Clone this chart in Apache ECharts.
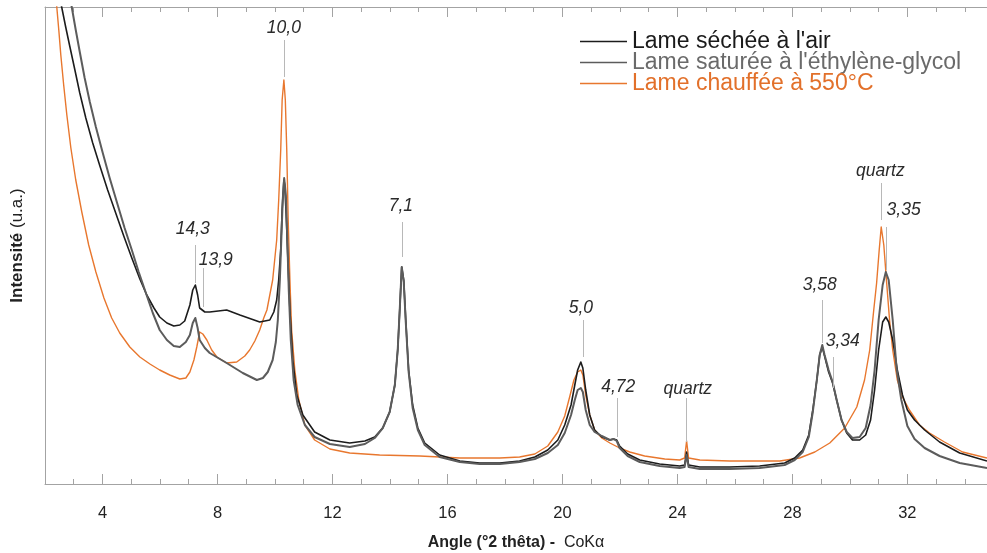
<!DOCTYPE html>
<html lang="fr">
<head>
<meta charset="utf-8">
<title>Diffractogrammes – lames orientées</title>
<script src="https://cdn.jsdelivr.net/npm/echarts@6.0.0/dist/echarts.min.js"></script>
<style>
  html, body { margin: 0; padding: 0; background: #ffffff; }
  #chart { width: 987px; height: 553px; }
</style>
</head>
<body>
<div id="chart"></div>
<script>
// Diffractogrammes X (CoKα) : [angle °2θ, intensité u.a.]
const airDried = [[2.00,562],[2.58,477],[2.72,457],[2.86,438],[3.04,414],[3.21,391],[3.42,366],[3.66,341],[3.91,318],[4.18,294],[4.46,271],[4.74,248],[5.02,226],[5.30,205],[5.54,189],[5.79,176],[5.99,167],[6.24,161],[6.48,158],[6.69,159],[6.86,163],[7.04,179],[7.14,194],[7.23,199],[7.31,189],[7.38,176],[7.56,172],[7.73,172],[8.32,174],[8.78,169],[9.47,162],[9.82,164],[9.96,172],[10.06,184],[10.13,204],[10.20,234],[10.25,274],[10.31,304],[10.34,299],[10.39,269],[10.45,224],[10.52,174],[10.62,124],[10.76,89],[10.97,69],[11.38,52],[11.91,44],[12.60,41],[13.13,43],[13.47,47],[13.75,56],[13.99,72],[14.17,99],[14.27,134],[14.34,174],[14.41,217],[14.48,204],[14.55,164],[14.65,114],[14.79,79],[14.97,56],[15.21,41],[15.73,29],[16.43,23],[17.12,21],[17.82,21],[18.51,23],[19.04,27],[19.49,34],[19.84,44],[20.08,59],[20.30,79],[20.43,99],[20.53,114],[20.64,122],[20.71,116],[20.81,94],[20.95,69],[21.12,54],[21.37,47],[21.65,44],[21.78,45],[21.89,44],[21.99,38],[22.27,30],[22.69,24],[23.38,20],[24.08,18],[24.25,19],[24.32,32],[24.39,19],[24.78,17],[25.82,17],[26.86,18],[27.73,21],[28.08,26],[28.36,34],[28.57,49],[28.71,74],[28.85,104],[28.95,129],[29.04,137],[29.12,128],[29.26,112],[29.40,101],[29.54,84],[29.71,64],[29.89,51],[30.09,44],[30.34,44],[30.55,49],[30.72,64],[30.86,94],[31.00,134],[31.14,162],[31.25,167],[31.35,162],[31.49,144],[31.65,114],[31.83,89],[32.00,74],[32.25,64],[32.60,54],[33.12,42],[33.82,31],[34.77,23]];

const glycol = [[2.00,632],[2.93,477],[3.07,454],[3.21,432],[3.38,406],[3.56,382],[3.77,357],[4.01,331],[4.25,306],[4.53,279],[4.77,256],[5.02,234],[5.26,212],[5.51,191],[5.75,171],[5.99,154],[6.24,144],[6.48,138],[6.69,137],[6.90,142],[7.04,149],[7.14,161],[7.23,166],[7.31,156],[7.38,144],[7.56,136],[7.73,131],[8.32,121],[8.88,111],[9.37,104],[9.58,106],[9.75,112],[9.92,124],[10.03,142],[10.10,164],[10.17,204],[10.22,244],[10.27,284],[10.32,306],[10.38,289],[10.43,244],[10.48,194],[10.55,144],[10.65,104],[10.79,79],[11.04,59],[11.38,47],[11.91,40],[12.60,37],[13.13,40],[13.47,46],[13.75,56],[13.99,72],[14.17,99],[14.27,134],[14.34,174],[14.41,217],[14.48,202],[14.55,162],[14.65,112],[14.79,76],[14.97,54],[15.21,39],[15.73,27],[16.43,22],[17.12,20],[17.82,20],[18.51,22],[19.04,25],[19.49,31],[19.84,39],[20.08,51],[20.30,69],[20.43,84],[20.53,94],[20.64,96],[20.71,92],[20.81,74],[20.95,59],[21.12,52],[21.37,48],[21.65,44],[21.78,45],[21.89,43],[21.99,36],[22.27,28],[22.69,22],[23.38,18],[24.08,16],[24.25,17],[24.32,29],[24.39,17],[24.78,15],[25.82,15],[26.86,16],[27.73,19],[28.08,24],[28.36,32],[28.57,47],[28.71,72],[28.85,104],[28.95,129],[29.04,139],[29.12,129],[29.26,114],[29.40,102],[29.54,84],[29.71,64],[29.89,52],[30.09,46],[30.34,47],[30.55,56],[30.72,79],[30.86,114],[31.00,164],[31.14,199],[31.25,212],[31.35,204],[31.49,164],[31.63,114],[31.79,84],[32.00,58],[32.25,45],[32.60,36],[33.12,28],[33.82,21],[34.77,16]];

const heated = [[2.00,615],[2.41,477],[2.48,454],[2.55,429],[2.65,399],[2.76,369],[2.90,336],[3.07,304],[3.28,272],[3.52,239],[3.77,212],[4.05,186],[4.32,166],[4.60,151],[4.95,137],[5.30,127],[5.65,120],[5.99,114],[6.34,109],[6.69,105],[6.90,106],[7.04,112],[7.18,124],[7.28,137],[7.38,152],[7.49,150],[7.63,144],[7.80,134],[7.98,127],[8.32,121],[8.67,122],[8.95,128],[9.12,134],[9.30,143],[9.47,154],[9.61,166],[9.72,174],[9.82,189],[9.92,204],[10.06,244],[10.13,284],[10.20,334],[10.25,384],[10.31,404],[10.36,384],[10.41,334],[10.46,264],[10.52,204],[10.58,154],[10.69,114],[10.83,84],[11.04,59],[11.38,44],[11.91,35],[12.60,31],[13.64,29],[15.04,28],[16.43,26],[17.82,26],[18.51,27],[19.04,30],[19.49,38],[19.84,52],[20.08,68],[20.26,88],[20.40,104],[20.53,112],[20.64,114],[20.71,109],[20.81,89],[20.95,69],[21.12,54],[21.37,46],[21.65,41],[21.99,36],[22.34,32],[22.86,28],[23.56,25],[24.08,24],[24.25,26],[24.32,43],[24.39,26],[24.78,24],[25.82,23],[26.86,23],[27.56,23],[28.25,26],[28.78,32],[29.30,41],[29.82,56],[30.24,77],[30.51,104],[30.69,134],[30.83,174],[30.93,201],[31.02,234],[31.09,257],[31.18,239],[31.28,201],[31.38,164],[31.49,134],[31.65,104],[31.83,87],[32.07,74],[32.42,59],[32.77,51],[33.29,42],[33.92,32],[34.77,26]];

const seriesNames = ["Lame séchée à l'air", "Lame saturée à l'éthylène-glycol", "Lame chauffée à 550°C"];

// Graduations de l'axe des angles
const labelTicks = [4, 8, 12, 16, 20, 24, 28, 32];
const unitTicks = [3, 5, 6, 7, 9, 10, 11, 13, 14, 15, 17, 18, 19, 21, 22, 23, 25, 26, 27, 29, 30, 31, 33, 34];

// Pics annotés : équidistance (Å) ou minéral, position du trait repère et du texte
const peakLabels = ['14,3', '13,9', '10,0', '7,1', '5,0', '4,72', 'quartz', '3,58', '3,34', 'quartz', '3,35'];
const peakLineX = [7.23, 7.48, 10.31, 14.41, 20.71, 21.89, 24.31, 29.04, 29.43, 31.09, 31.27];
const peakLineTop = [239, 216, 444, 262, 164, 86, 86, 184, 127, 301, 257];
const peakLineBottom = [201, 177, 407, 227, 127, 47, 42, 141, 96, 264, 214];
const peakTextX = [7.14, 7.94, 10.31, 14.38, 20.64, 21.94, 24.36, 28.95, 29.75, 31.06, 31.87];
const peakTextY = [255, 224, 456, 278, 176, 97, 95, 199, 143, 313, 274];

const X_MIN = 2, X_MAX = 34.77, Y_MAX = 477;
const AXIS_GREY = '#a3a3a3';
const NARROW = '"Liberation Sans Narrow", "Arial Narrow", "Liberation Sans", Arial, sans-serif';
const SANS = '"Liberation Sans", Arial, Helvetica, sans-serif';

const colors = { air: '#1c1c1c', glycol: '#5c5c5c', heated: '#e8772e' };

const peakData = peakLabels.map((_, i) => [peakLineX[i], peakLineTop[i], peakLineBottom[i], peakTextX[i], peakTextY[i]]);

function xAxisFrame(position, ticks, tickLength, showLine) {
  return {
    type: 'value', position: position, min: X_MIN, max: X_MAX,
    axisLine: { show: showLine, onZero: false, lineStyle: { color: AXIS_GREY, width: 1 } },
    axisTick: { show: true, inside: true, length: tickLength, customValues: ticks, lineStyle: { color: AXIS_GREY, width: 1 } },
    axisLabel: { show: false },
    splitLine: { show: false }
  };
}

const bottomMain = xAxisFrame('bottom', labelTicks, 10, true);
bottomMain.axisLabel = {
  show: true, customValues: labelTicks, margin: 21,
  fontFamily: NARROW, fontSize: 16.5, color: '#222'
};
bottomMain.name = '{b|Angle (°2 thêta) -}  {n|CoKα}';
bottomMain.nameLocation = 'middle';
bottomMain.nameGap = 51;
bottomMain.nameTextStyle = {
  fontFamily: NARROW, fontSize: 16, color: '#222',
  rich: {
    b: { fontFamily: NARROW, fontSize: 16, fontWeight: 'bold', color: '#222' },
    n: { fontFamily: NARROW, fontSize: 16, color: '#222' }
  }
};

function traceSeries(name, data, color, width, z) {
  return {
    name: name, type: 'line', data: data, symbol: 'none', z: z, clip: true,
    lineStyle: { color: color, width: width, join: 'round' }, itemStyle: { color: color }
  };
}

const chart = echarts.init(document.getElementById('chart'), null, { renderer: 'canvas' });

chart.setOption({
  animation: false,
  backgroundColor: '#ffffff',
  grid: { left: 45, right: 0, top: 7, bottom: 69, containLabel: false, outerBoundsMode: 'none' },
  legend: {
    orient: 'vertical', left: 580, top: 30, padding: 0,
    itemWidth: 47, itemHeight: 1.4, itemGap: -2,
    icon: 'rect',
    data: [
      { name: seriesNames[0], textStyle: { color: '#1a1a1a' }, itemStyle: { color: colors.air } },
      { name: seriesNames[1], textStyle: { color: '#6a6a6a' }, itemStyle: { color: colors.glycol } },
      { name: seriesNames[2], textStyle: { color: '#e2702a' }, itemStyle: { color: colors.heated } }
    ],
    textStyle: { fontFamily: SANS, fontSize: 23 },
    selectedMode: false
  },
  xAxis: [
    bottomMain,
    xAxisFrame('bottom', unitTicks, 5, false),
    xAxisFrame('top', labelTicks, 10, true),
    xAxisFrame('top', unitTicks, 5, false)
  ],
  yAxis: {
    type: 'value', min: 0, max: Y_MAX,
    axisLine: { show: true, onZero: false, lineStyle: { color: AXIS_GREY, width: 1 } },
    axisTick: { show: false },
    axisLabel: { show: false },
    splitLine: { show: false },
    name: '{b|Intensité} {n|(u.a.)}',
    nameLocation: 'middle',
    nameGap: 19,
    nameRotate: 90,
    nameTextStyle: {
      fontFamily: SANS, fontSize: 17, color: '#222',
      rich: {
        b: { fontFamily: SANS, fontSize: 17, fontWeight: 'bold', color: '#222' },
        n: { fontFamily: SANS, fontSize: 17, color: '#222' }
      }
    }
  },
  series: [
    traceSeries(seriesNames[2], heated, colors.heated, 1.4, 2),
    traceSeries(seriesNames[0], airDried, colors.air, 1.6, 3),
    traceSeries(seriesNames[1], glycol, colors.glycol, 2, 4),
    {
      name: 'pics', type: 'custom', data: peakData, z: 5, silent: true, clip: false,
      encode: { x: [0, 3], y: [1, 2, 4] },
      renderItem: function (params, api) {
        const i = params.dataIndex;
        const a = api.coord([api.value(0), api.value(1)]);
        const b = api.coord([api.value(0), api.value(2)]);
        const t = api.coord([api.value(3), api.value(4)]);
        const lx = Math.round(a[0]) + 0.5;
        return {
          type: 'group',
          children: [
            { type: 'line', shape: { x1: lx, y1: a[1], x2: lx, y2: b[1] }, style: { stroke: '#b8b8b8', lineWidth: 1 } },
            { type: 'text', x: t[0], y: t[1], style: {
                text: peakLabels[i], fill: '#2b2b2b', align: 'center', verticalAlign: 'middle',
                font: 'italic 17.5px "Liberation Sans", Arial, sans-serif'
            } }
          ]
        };
      }
    }
  ]
});
</script>
</body>
</html>
